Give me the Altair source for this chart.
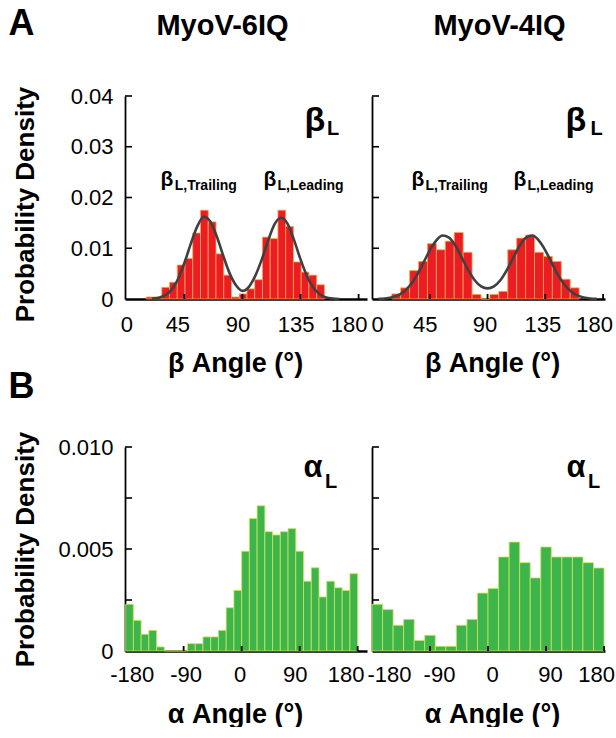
import altair as alt
import pandas as pd

FONT = "Liberation Sans"

# ---------------- data ----------------
# A, MyoV-6IQ : beta_L histogram (bin edges in degrees, probability density)
beta6_edges = [15.5, 21.5, 27.5, 33.5, 39.5, 45.5, 51.5, 57.5, 63.5, 69.5, 75.5, 81.5,
               87.5, 93.5, 99.5, 105.5, 111.5, 117.5, 123.5, 129.5, 135.5, 141.5, 147.5, 153.5]
beta6_density = [0.0004, 0.0004, 0.0023, 0.0033, 0.0067, 0.0080, 0.0130, 0.0175, 0.0152, 0.0089,
                 0.0047, 0.0004, 0.0010, 0.0020, 0.0038, 0.0122, 0.0119, 0.0175, 0.0143, 0.0073,
                 0.0053, 0.0047, 0.0028]
beta6_fit_x = [20, 25, 30, 35, 40, 45, 50, 55, 60, 65, 70, 75, 80, 85, 90,
               95, 100, 105, 110, 115, 120, 125, 130, 135, 140, 145, 150, 155, 160, 165]
beta6_fit_y = [0.0001, 0.00025, 0.0007, 0.0018, 0.0039, 0.0071, 0.0109, 0.0143, 0.0162, 0.0153,
               0.0124, 0.0086, 0.0051, 0.0027, 0.0016, 0.0024, 0.0046, 0.0078, 0.0116, 0.0148,
               0.0160, 0.0148, 0.0116, 0.0078, 0.0045, 0.0022, 0.0009, 0.0003, 0.0001, 0.0]

# A, MyoV-4IQ : beta_L histogram
beta4_edges = [15.4, 22.35, 29.3, 36.25, 43.2, 50.15, 57.1, 64.05, 71.0, 77.95, 84.9,
               91.85, 98.8, 105.75, 112.7, 119.65, 126.6, 133.55, 140.5, 147.45, 154.4, 161.35]
beta4_density = [0.0010, 0.0022, 0.0056, 0.0074, 0.0109, 0.0097, 0.0114, 0.0131, 0.0092, 0.0009,
                 0.0, 0.0009, 0.0015, 0.0097, 0.0120, 0.0126, 0.0092, 0.0084, 0.0074, 0.0039,
                 0.0022]
beta4_fit_x = [5, 10, 15, 20, 25, 30, 35, 40, 45, 50, 55, 60, 65, 70, 75, 80, 85, 90,
               95, 100, 105, 110, 115, 120, 125, 130, 135, 140, 145, 150, 155, 160, 165, 170, 175]
beta4_fit_y = [0.00004, 0.0001, 0.0003, 0.0007, 0.0015, 0.0028, 0.0047, 0.0071, 0.0096, 0.0115,
               0.0125, 0.0121, 0.0105, 0.0081, 0.0057, 0.0037, 0.0025, 0.0021, 0.0025, 0.0037,
               0.0057, 0.0081, 0.0105, 0.0121, 0.0125, 0.0115, 0.0096, 0.0071, 0.0047, 0.0028,
               0.0015, 0.0007, 0.0003, 0.0001, 0.00004]

# B, MyoV-6IQ : alpha_L histogram
alpha6_edges = [-180, -168, -156, -144, -132, -120, -108, -96, -84, -72, -60, -48, -36, -24, -12,
                0, 12, 24, 36, 48, 60, 72, 84, 96, 108, 120, 132, 144, 156, 168, 180]
alpha6_density = [0.00229, 0.00150, 0.00082, 0.00101, 0.00020, 0.0, 0.0, 0.0, 0.00036, 0.00036,
                  0.00069, 0.00069, 0.00101, 0.00212, 0.00297, 0.00489, 0.00649, 0.00712, 0.00585,
                  0.00569, 0.00585, 0.00600, 0.00489, 0.00342, 0.00408, 0.00265, 0.00342, 0.00310,
                  0.00297, 0.00379]

# B, MyoV-4IQ : alpha_L histogram
alpha4_edges = [-180, -163.64, -147.27, -130.91, -114.55, -98.18, -81.82, -65.45, -49.09, -32.73,
                -16.36, 0, 16.36, 32.73, 49.09, 65.45, 81.82, 98.18, 114.55, 130.91, 147.27,
                163.64, 180]
alpha4_density = [0.00229, 0.00203, 0.00126, 0.00155, 0.00052, 0.00077, 0.00023, 0.00023,
                  0.00126, 0.00155, 0.00284, 0.00306, 0.00461, 0.00534, 0.00433, 0.00358,
                  0.00510, 0.00461, 0.00461, 0.00461, 0.00433, 0.00407]

beta_ticks = [0, 45, 90, 135, 180]
alpha_ticks = [-180, -90, 0, 90, 180]
beta_density_ticks = [0, 0.01, 0.02, 0.03, 0.04]
alpha_density_ticks = [0, 0.0025, 0.005, 0.0075, 0.01]
alpha_density_labels = [0, 0.005, 0.01]

column_titles = ["MyoV-6IQ", "MyoV-4IQ"]
row_letters = ["A", "B"]

# ---------------- styling ----------------
RED = "#EC1C24"
RED_EDGE = "#F9A64A"
GREEN = "#3DB54A"
GREEN_EDGE = "#CDE45A"
CURVE = "#404040"

TL = dict(xdom=[-1, 186.5], w=242, h=203)
TR = dict(xdom=[0, 181.5], w=233, h=203)
BL = dict(xdom=[-181, 194.5], w=242, h=204)
BR = dict(xdom=[-180, 181.5], w=233, h=204)

# horizontal nudges (px) of the x tick labels, as placed in the figure
TL_SHIFT = [0, -7, -5, -5, -10]
TR_SHIFT = [5, -5, -3, -3, -9]
BL_SHIFT = [6, 2, -2, -5, -12]
BR_SHIFT = [17, 9, 4, 4, -8]


def shift_cond(values, shifts):
    return {"condition": [{"test": "datum.value == %s" % v, "value": s}
                          for v, s in zip(values, shifts)], "value": 0}


def panel(edges, dens, fill, edge, geo, ydom, xticks, xshift, ylabel_vals, yfmt, ytick_vals,
          xtitle, show_y, annotations, fit=None, title=None, letter=None,
          xtitle_x=None, xtitle_y=70, ytitle_y=None, label_pad=15):
    w, h = geo["w"], geo["h"]
    xs = alt.Scale(domain=geo["xdom"], nice=False, zero=False)
    ys = alt.Scale(domain=ydom, nice=False, zero=False)
    xaxis = alt.Axis(values=xticks, title=xtitle, grid=False, ticks=False, tickSize=0,
                     labelExpr="datum.value < 0 ? '-' + abs(datum.value) : '' + datum.value",
                     labelOffset=shift_cond(xticks, xshift),
                     domainColor="black", domainWidth=2.5, labelFont=FONT, labelFontSize=22,
                     labelColor="black", labelPadding=label_pad, labelFlush=False,
                     labelOverlap=False, titleFont=FONT, titleFontSize=27,
                     titleFontWeight="bold", titleColor="black",
                     titleX=xtitle_x if xtitle_x is not None else w / 2, titleY=xtitle_y,
                     titleBaseline="alphabetic", titleAlign="center")
    if show_y:
        yaxis = alt.Axis(values=ylabel_vals,
                         labelExpr="datum.value == 0 ? '0' : format(datum.value, '%s')" % yfmt,
                         title="Probability Density", grid=False, ticks=False, tickSize=0,
                         domainColor="black", domainWidth=1.8, labelFont=FONT,
                         labelFontSize=22, labelColor="black", labelPadding=12,
                         titleFont=FONT, titleFontSize=26, titleFontWeight="bold",
                         titleColor="black", titleX=-100, titleY=ytitle_y,
                         titleAlign="center", titleBaseline="middle", titleAngle=270)
    else:
        yaxis = alt.Axis(values=ylabel_vals, labels=False, title=None, grid=False, ticks=False,
                         tickSize=0, domainColor="black", domainWidth=1.8)

    bars_df = pd.DataFrame({"lo": edges[:-1], "hi": edges[1:], "d": dens})
    layers = [
        alt.Chart(bars_df).mark_rect(fill=fill, stroke=edge, strokeWidth=0.8).encode(
            x=alt.X("lo:Q", scale=xs, axis=xaxis), x2="hi:Q",
            y=alt.Y("d:Q", scale=ys, axis=yaxis), y2=alt.datum(0))
    ]
    if fit is not None:
        fit_df = pd.DataFrame({"lo": fit[0], "d": fit[1]})
        layers.append(
            alt.Chart(fit_df).mark_line(color=CURVE, strokeWidth=2.6, interpolate="monotone")
            .encode(x=alt.X("lo:Q", scale=xs, axis=xaxis), y=alt.Y("d:Q", scale=ys, axis=yaxis)))
    # inward tick marks
    layers.append(
        alt.Chart(pd.DataFrame({"d": ytick_vals[1:]})).mark_rule(color="black", strokeWidth=1.6)
        .encode(y=alt.Y("d:Q", scale=ys, axis=yaxis), x=alt.value(0), x2=alt.value(7)))
    layers.append(
        alt.Chart(pd.DataFrame({"lo": xticks[1:]})).mark_rule(color="black", strokeWidth=1.8)
        .encode(x=alt.X("lo:Q", scale=xs, axis=xaxis), y=alt.value(h), y2=alt.value(h - 5)))
    # annotations
    ann = pd.DataFrame(annotations, columns=["lo", "d", "t", "fs"])
    layers.append(
        alt.Chart(ann).mark_text(align="left", baseline="alphabetic", font=FONT,
                                 fontWeight="bold", color="black")
        .encode(x=alt.X("lo:Q", scale=xs, axis=xaxis), y=alt.Y("d:Q", scale=ys, axis=yaxis),
                text="t:N", size=alt.Size("fs:Q", scale=None)))
    if letter is not None:
        layers.append(
            alt.Chart(pd.DataFrame({"t": [letter[0]]})).mark_text(
                align="left", baseline="alphabetic", font=FONT, fontWeight="bold",
                fontSize=36, color="black")
            .encode(x=alt.value(-116.5), y=alt.value(letter[1]), text="t:N"))
    if title is not None:
        layers.append(
            alt.Chart(pd.DataFrame({"t": [title[0]]})).mark_text(
                align="center", baseline="alphabetic", font=FONT, fontWeight="bold",
                fontSize=29, color="black")
            .encode(x=alt.value(title[1]), y=alt.value(-61), text="t:N"))
    return alt.layer(*layers).properties(width=w, height=h)


tl = panel(beta6_edges, beta6_density, RED, RED_EDGE, TL, [0, 0.04], beta_ticks, TL_SHIFT,
           beta_density_ticks, ".2f", beta_density_ticks, "β Angle (°)", True,
           [(138, 0.0331, "β", 34), (155.5, 0.0323, "L", 20),
            (26.5, 0.0223, "β", 21), (37.5, 0.0215, "L,Trailing", 14),
            (106.3, 0.0223, "β", 21), (117.2, 0.0215, "L,Leading", 14)],
           fit=(beta6_fit_x, beta6_fit_y), title=(column_titles[0], 97.5),
           letter=(row_letters[0], -61), xtitle_x=110, xtitle_y=72, ytitle_y=108)

tr = panel(beta4_edges, beta4_density, RED, RED_EDGE, TR, [0, 0.04], beta_ticks, TR_SHIFT,
           beta_density_ticks, ".2f", beta_density_ticks, "β Angle (°)", False,
           [(150.7, 0.0331, "β", 34), (170.2, 0.0323, "L", 20),
            (30.8, 0.0223, "β", 21), (41.7, 0.0215, "L,Trailing", 14),
            (110.2, 0.0223, "β", 21), (121.1, 0.0215, "L,Leading", 14)],
           fit=(beta4_fit_x, beta4_fit_y), title=(column_titles[1], 127.5),
           xtitle_x=120, xtitle_y=72)

bl = panel(alpha6_edges, alpha6_density, GREEN, GREEN_EDGE, BL, [0, 0.01], alpha_ticks, BL_SHIFT,
           alpha_density_labels, ".3f", alpha_density_ticks, "α Angle (°)", True,
           [(96, 0.00853, "α", 31), (129.5, 0.0080, "L", 20)],
           letter=(row_letters[1], -49), xtitle_x=110, xtitle_y=71, ytitle_y=102,
           label_pad=13)

br = panel(alpha4_edges, alpha4_density, GREEN, GREEN_EDGE, BR, [0, 0.01], alpha_ticks, BR_SHIFT,
           alpha_density_labels, ".3f", alpha_density_ticks, "α Angle (°)", False,
           [(121.8, 0.00853, "α", 31), (155, 0.0080, "L", 20)],
           xtitle_x=120, xtitle_y=71, label_pad=13)

chart = alt.concat(tl, tr, bl, br, columns=2, spacing={"row": 148, "column": 5},
                   bounds="flush").properties(
    padding={"left": 8, "top": 6, "right": 0, "bottom": 0}, background="white"
).configure_view(stroke=None)

chart.save("out.html", embed_options={"renderer": "svg", "actions": False})
